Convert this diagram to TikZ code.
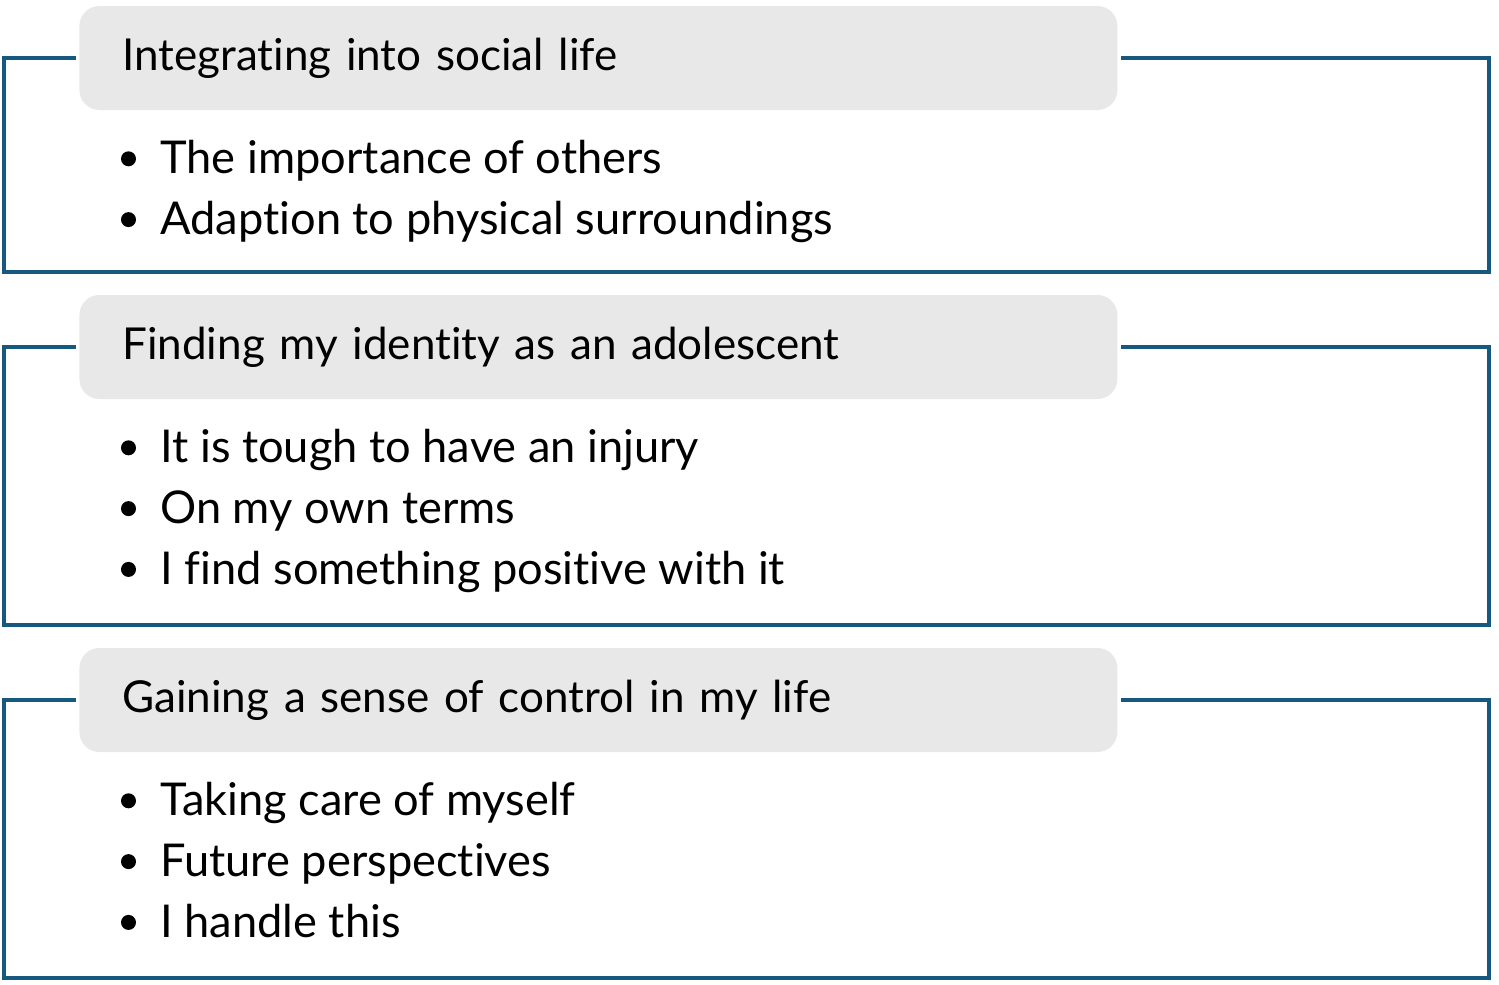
\documentclass[tikz,border=0pt]{standalone}
\usepackage{fontspec}
\setmainfont{Lato}[Ligatures={NoCommon}]
\usetikzlibrary{positioning}

\definecolor{framecol}{RGB}{22,88,126}
\definecolor{titlegrey}{RGB}{232,232,232}

\begin{document}
\begin{tikzpicture}[x=0.5pt,y=-0.5pt,
    title/.style={rounded corners=10pt,fill=titlegrey,minimum height=52pt,
      text width=476pt,inner xsep=21.5pt,align=left,anchor=west,
      font=\fontsize{22}{26}\selectfont},
    item/.style={inner xsep=0pt,inner ysep=4pt,text height=17pt,text depth=5pt,
      anchor=north west,font=\fontsize{22.6}{26}\selectfont},
    frame/.style={draw=framecol,line width=2pt,line join=miter}]

  \useasboundingbox (0,0) rectangle (1499,985);

  % first group
  \node[title] (t_1) at (79,58) {Integrating into social life};
  \node (a_1) [below=10.5pt of t_1.south west,item,xshift=40.5pt] {The importance of others};
  \node (a_2) [below=0pt of a_1.south west,item] {Adaption to physical surroundings};

  % second group
  \node[title] (t_2) at (79,347) {Finding my identity as an adolescent};
  \node (b_1) [below=10.5pt of t_2.south west,item,xshift=40.5pt] {It is tough to have an injury};
  \node (b_2) [below=0pt of b_1.south west,item] {On my own terms};
  \node (b_3) [below=0pt of b_2.south west,item] {I find something positive with it};

  % third group
  \node[title] (t_3) at (79,700) {Gaining a sense of control in my life};
  \node (c_1) [below=10.5pt of t_3.south west,item,xshift=40.5pt] {Taking care of myself};
  \node (c_2) [below=0pt of c_1.south west,item] {Future perspectives};
  \node (c_3) [below=0pt of c_2.south west,item] {I handle this};

  % bullets
  \foreach \n in {a_1,a_2,b_1,b_2,b_3,c_1,c_2,c_3}
    \fill ([xshift=-15.75pt,yshift=7.5pt]\n.base west) circle (3.75pt);

  % frames
  \coordinate (bl_1) at (4,272);  \coordinate (br_1) at (1489,272);
  \coordinate (bl_2) at (4,625);  \coordinate (br_2) at (1489,625);
  \coordinate (bl_3) at (4,978);  \coordinate (br_3) at (1489,978);

  \foreach \i in {1,2,3}
    \draw[frame] ([xshift=-1.5pt]t_\i.west) -| (bl_\i) -- (br_\i) |- ([xshift=1.5pt]t_\i.east);

\end{tikzpicture}
\end{document}
